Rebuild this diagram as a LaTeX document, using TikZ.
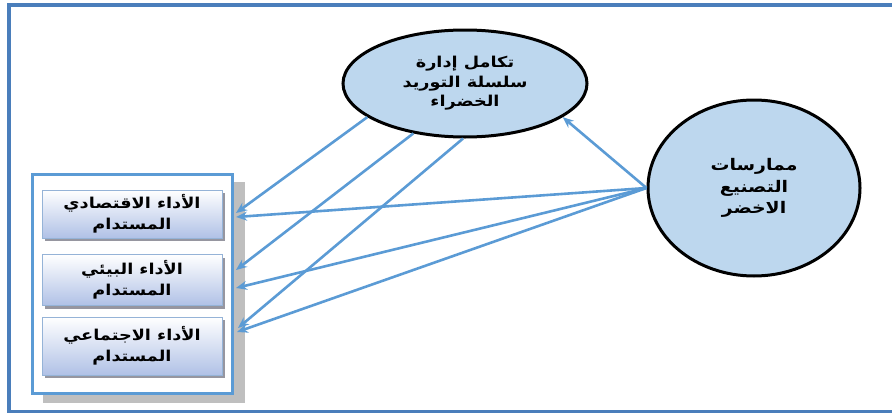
\documentclass[tikz,border=0pt]{standalone}
\usepackage{fontspec}
\usetikzlibrary{shapes.geometric,arrows.meta}
\TeXXeTstate=1
\newfontfamily\arabicfont[Script=Arabic,FakeStretch=1.18]{DejaVu Sans}
\definecolor{framecol}{RGB}{74,126,187}
\definecolor{arrowcol}{RGB}{91,155,213}
\definecolor{ellfill}{RGB}{189,215,238}
\definecolor{boxborder}{RGB}{149,179,215}
\definecolor{boxbottom}{RGB}{176,193,230}
\definecolor{shadowgray}{RGB}{191,191,191}
\definecolor{boxshadow}{RGB}{150,150,160}
\begin{document}
\begin{tikzpicture}[x=1pt,y=-1pt,
  ell/.style={ellipse, draw=black, line width=3pt, fill=ellfill, inner sep=0pt},
  lbl/.style={font=\arabicfont\bfseries\fontsize{15}{21}\selectfont, align=center, text=black},
  perfbox/.style={rectangle, draw=boxborder, line width=1pt, top color=white, bottom color=boxbottom, minimum width=180pt, inner sep=0pt},
  boxshade/.style={fill=boxshadow, minimum width=180pt, inner sep=0pt, draw=none},
  conn/.style={draw=arrowcol, line width=2.6pt, -{Stealth[length=11pt,width=9pt]}}
]
\useasboundingbox (0,0) rectangle (892,415);
% outer frame (its right side lies beyond the picture)
\draw[framecol, line width=3.5pt] (900,5) -- (9,5) -- (9,411.5) -- (900,411.5);
% left group frame with shadow
\fill[shadowgray] (43,182) rectangle (245,403);
\node[draw=arrowcol, line width=3pt, fill=white, minimum width=200pt, minimum height=219pt, inner sep=0pt] (group) at (132,283.5) {};
% box shadows
\node[boxshade, minimum height=48pt] (s1) at (135,217) {};
\node[boxshade, minimum height=51pt] (s2) at (135,283) {};
\node[boxshade, minimum height=58pt] (s3) at (135,349) {};
% boxes
\node[perfbox, minimum height=48pt, lbl] (b1) at (132,214) {\beginR الأداء الاقتصادي\endR\\\beginR المستدام\endR};
\node[perfbox, minimum height=51pt, lbl] (b2) at (132,280) {\beginR الأداء البيئي\endR\\\beginR المستدام\endR};
\node[perfbox, minimum height=58pt, lbl] (b3) at (132,346) {\beginR الأداء الاجتماعي\endR\\\beginR المستدام\endR};
% ellipses
\node[ell, minimum width=244pt, minimum height=107pt, lbl, font=\arabicfont\bfseries\fontsize{15}{19.5}\selectfont] (top) at (465,83.5) {\beginR تكامل إدارة\endR\\\beginR سلسلة التوريد\endR\\\beginR الخضراء\endR};
\node[ell, minimum width=212pt, minimum height=176pt, lbl, font=\arabicfont\bfseries\fontsize{16}{21.5}\selectfont] (right) at (754,188) {\beginR ممارسات\endR\\\beginR التصنيع\endR\\\beginR الاخضر\endR};
% arrow end points on the group frame
\coordinate (t1) at (236,213);
\coordinate (t2) at (236,270);
\coordinate (t3) at (238,328);
\coordinate (r1) at (236,217);
\coordinate (r2) at (236,288);
\coordinate (r3) at (237,332);
% connectors
\draw[conn] (top.199) -- (t1);
\draw[conn] (top.224) -- (t2);
\draw[conn] (top.268) -- (t3);
\draw[conn] (right.west) -- (top.341);
\draw[conn] (right.west) -- (r1);
\draw[conn] (right.west) -- (r2);
\draw[conn] (right.west) -- (r3);
\end{tikzpicture}
\end{document}
